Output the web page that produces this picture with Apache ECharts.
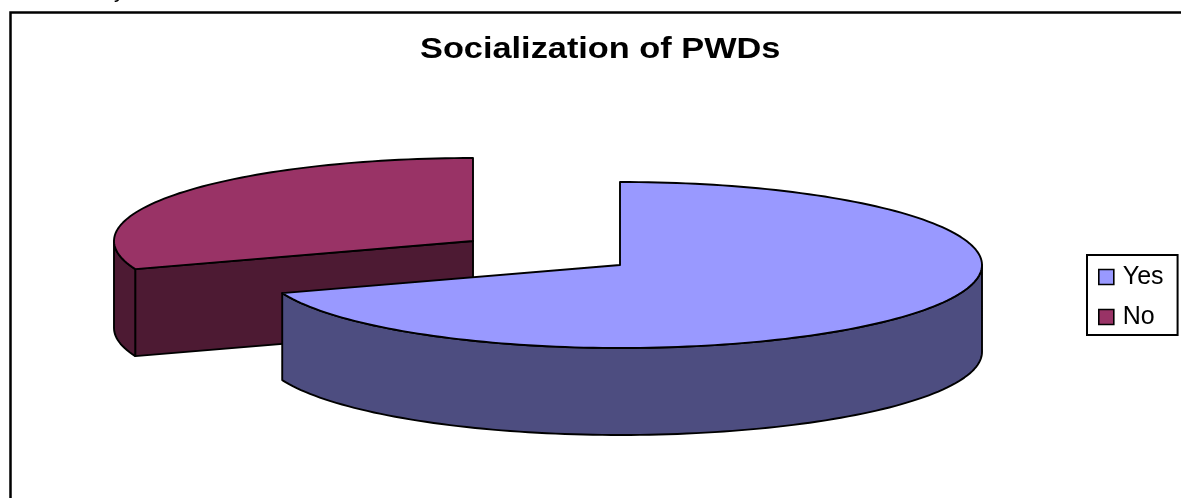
<!DOCTYPE html>
<html><head><meta charset="utf-8">
<style>html,body{margin:0;padding:0;background:#fff}#c{width:1181px;height:498px}</style>
<script src="https://cdn.jsdelivr.net/npm/echarts@6/dist/echarts.min.js"></script>
</head><body><div id="c"></div>
<script>
const categories = ['Yes', 'No'];
const values = [69.5, 30.5];
const topColors = ['#9999FF', '#993366'];
const wallColors = ['#4D4D80', '#4D1A33'];
const titleText = 'Socialization of PWDs';

const total = values[0] + values[1];
const centers = [[620, 265], [473, 241]];
const RX_RIGHT = 362, RX_LEFT = 359, RY = 83, DEPTH = 87;

function arc(c, a0, a1, dy) {
  const pts = [], n = Math.max(2, Math.ceil(Math.abs(a1 - a0) / 1.5));
  for (let i = 0; i <= n; i++) {
    const t = (a0 + (a1 - a0) * i / n) * Math.PI / 180;
    const s = Math.sin(t);
    pts.push([c[0] + (s >= 0 ? RX_RIGHT : RX_LEFT) * s, c[1] - RY * Math.cos(t) + dy]);
  }
  return pts;
}
function poly(points, fill) {
  return { type: 'polygon', shape: { points }, style: { fill, stroke: '#000', lineWidth: 1.9, lineJoin: 'round' } };
}
function sliceRenderer(idx) {
  return function (params, api) {
    let start = 0;
    for (let i = 0; i < idx; i++) start += values[i] / total * 360;
    const a0 = start, a1 = start + api.value(0) / total * 360;
    const c = centers[idx], children = [];
    if (idx === 1) {
      const e = arc(c, a0, a0, 0)[0];
      children.push(poly([c, e, [e[0], e[1] + DEPTH], [c[0], c[1] + DEPTH]], wallColors[idx]));
    }
    const w0 = Math.max(a0, 90), w1 = Math.min(a1, 270);
    if (w1 > w0) {
      children.push(poly(arc(c, w0, w1, 0).concat(arc(c, w1, w0, DEPTH)), wallColors[idx]));
    }
    children.push(poly([c].concat(arc(c, a0, a1, 0)), topColors[idx]));
    return { type: 'group', children };
  };
}

const chart = echarts.init(document.getElementById('c'), null, { renderer: 'canvas' });
chart.setOption({
  animation: false,
  backgroundColor: '#fff',
  legend: {
    data: categories, orient: 'vertical', left: 1087, top: 255,
    padding: [9.5, 14, 5.5, 11], itemGap: 15, itemWidth: 15, itemHeight: 15,
    borderColor: '#000', borderWidth: 2, backgroundColor: '#fff',
    icon: 'rect', selectedMode: false,
    itemStyle: { borderColor: '#000', borderWidth: 1.6 },
    textStyle: { fontFamily: 'Liberation Sans', fontSize: 25, lineHeight: 25, color: '#000', padding: [0, 0, 0, 4] }
  },
  graphic: [
    { type: 'polyline', silent: true, shape: { points: [[10.5, 500], [10.5, 12.5], [1183, 12.5]] }, style: { fill: null, stroke: '#000', lineWidth: 2.5 }, z: -1 },
    { type: 'text', silent: true, x: 114, y: -18, style: { text: 'y', fontFamily: 'Liberation Sans', fontSize: 21, fill: '#000' }, z: -1 },
    { type: 'text', silent: true, x: 420, y: 50, scaleX: 1.144, style: { text: titleText, fontFamily: 'Liberation Sans', fontSize: 30, fontWeight: 'bold', fill: '#000', verticalAlign: 'middle' }, z: 5 }
  ],
  series: [
    { type: 'custom', name: categories[1], coordinateSystem: 'none', z: 2, data: [values[1]], renderItem: sliceRenderer(1), itemStyle: { color: topColors[1] }, silent: true },
    { type: 'custom', name: categories[0], coordinateSystem: 'none', z: 3, data: [values[0]], renderItem: sliceRenderer(0), itemStyle: { color: topColors[0] }, silent: true }
  ]
});
</script></body></html>
